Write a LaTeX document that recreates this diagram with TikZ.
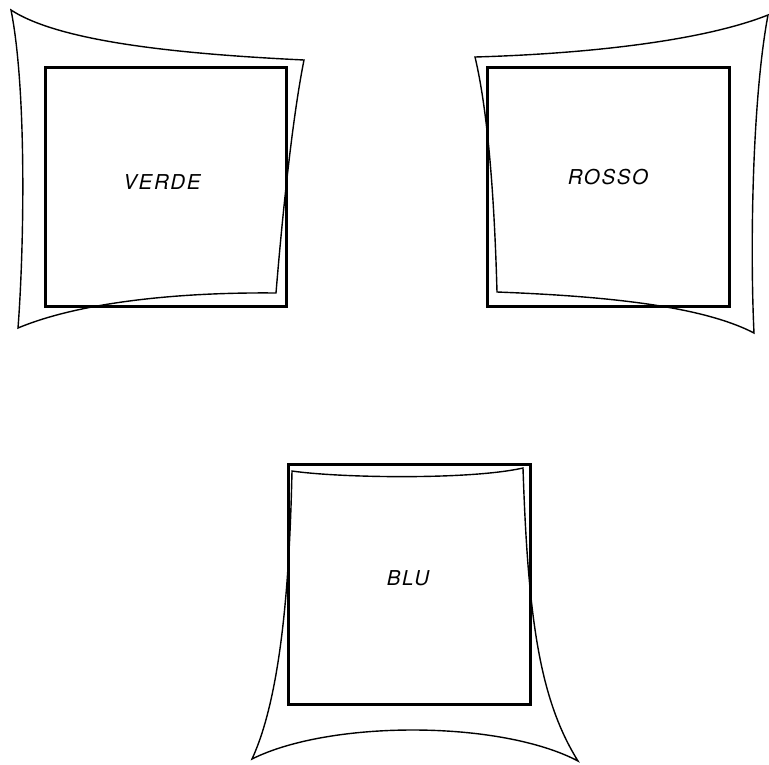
\documentclass[tikz,border=0pt]{standalone}
\usepackage{fontspec}
\setmainfont{TeX Gyre Heros}
\begin{document}
\begin{tikzpicture}[x=1pt,y=-1pt,
  screen/.style={line width=3pt},
  beam/.style={line width=1.4pt, line join=miter},
  lbl/.style={font=\fontsize{20.5}{20.5}\selectfont\itshape\addfontfeatures{LetterSpace=8}}]
\useasboundingbox (0,0) rectangle (769,764);
% VERDE
\draw[screen] (45,67) rectangle (286,306);
\draw[beam] (11,10) .. controls (60,42) and (180,54) .. (304,60)
  .. controls (292,120) and (282,220) .. (276,293)
  .. controls (180,292) and (80,302) .. (18,328)
  .. controls (24,250) and (27,90) .. cycle;
\node[lbl] (verde) at (162,182) {VERDE};
% ROSSO
\draw[screen] (487,67) rectangle (729,306);
\draw[beam] (475,57) .. controls (580,54) and (700,42) .. (768,15)
  .. controls (752,100) and (750,250) .. (754,333)
  .. controls (700,305) and (600,296) .. (497,292)
  .. controls (495,220) and (490,120) .. cycle;
\node[lbl] (rosso) at (608,177) {ROSSO};
% BLU
\draw[screen] (288,464) rectangle (530,704);
\draw[beam] (292,471) .. controls (340,478) and (470,480) .. (523,468)
  .. controls (528,620) and (540,700) .. (578,761)
  .. controls (500,720) and (330,720) .. (252,759)
  .. controls (284,690) and (290,560) .. cycle;
\node[lbl] (blu) at (408,578) {BLU};
\end{tikzpicture}
\end{document}
